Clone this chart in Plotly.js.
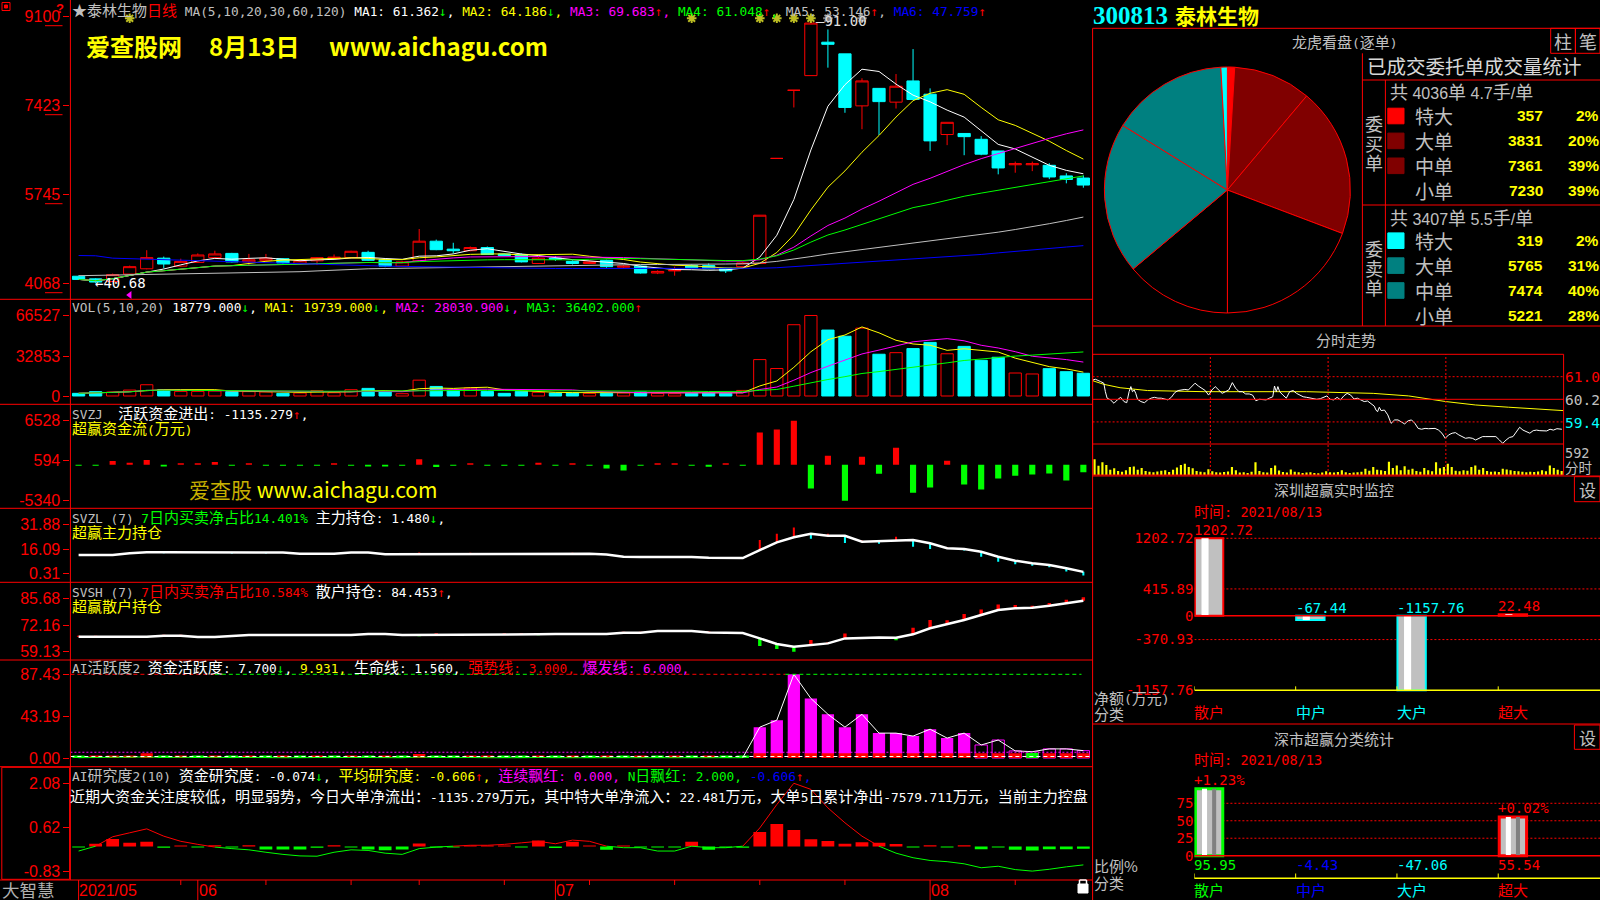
<!DOCTYPE html>
<html>
<head>
<meta charset="utf-8">
<script src="https://cdn.plot.ly/plotly-3.0.1.min.js"></script>
<style>
html,body{margin:0;padding:0;background:#000;overflow:hidden;}
#chart{width:1600px;height:900px;}
</style>
</head>
<body>
<div id="chart"></div>
<script>
// ================= DATA =================
const stockCode = '300813';
const stockName = '泰林生物';
const dates = ['2021-05-21','2021-05-24','2021-05-25','2021-05-26','2021-05-27','2021-05-28','2021-05-31',
 '2021-06-01','2021-06-02','2021-06-03','2021-06-04','2021-06-07','2021-06-08','2021-06-09','2021-06-10','2021-06-11',
 '2021-06-15','2021-06-16','2021-06-17','2021-06-18','2021-06-21','2021-06-22','2021-06-23','2021-06-24','2021-06-25',
 '2021-06-28','2021-06-29','2021-06-30',
 '2021-07-01','2021-07-02','2021-07-05','2021-07-06','2021-07-07','2021-07-08','2021-07-09','2021-07-12','2021-07-13',
 '2021-07-14','2021-07-15','2021-07-16','2021-07-19','2021-07-20','2021-07-21','2021-07-22','2021-07-23','2021-07-26',
 '2021-07-27','2021-07-28','2021-07-29','2021-07-30',
 '2021-08-02','2021-08-03','2021-08-04','2021-08-05','2021-08-06','2021-08-09','2021-08-10','2021-08-11','2021-08-12','2021-08-13'];

const openP  = [42.0,41.5,41.0,42.4,43.4,45.4,43.9,44.6,45.5,46.3, 44.7,45.0,45.3,44.4,44.9,45.3,45.5,46.5,45.1,43.9,
                44.9,48.6,47.1,46.8,47.4,46.2,46.1,44.4,45.4,44.8, 44.4,45.0,43.7,43.9,42.6,43.0,44.0,44.0,43.5,43.8,
                44.4,64.2,77.04,79.8,86.1,83.9,74.1,77.4,74.8,78.8, 76.3,68.7,68.9,67.8,65.6,63.0,63.0,62.9,60.9,60.5];
const highP  = [42.1,41.6,42.5,44.0,46.9,45.7,45.3,46.3,46.8,46.4, 46.2,46.2,45.4,45.1,45.6,46.1,46.8,46.8,45.2,44.9,
                50.9,48.9,48.3,47.6,47.6,46.3,46.3,45.6,45.8,45.0, 45.0,45.1,44.1,44.0,43.1,43.8,44.2,44.4,43.6,44.7,
                53.5,64.2,77.04,91.0,88.5,83.9,79.3,77.4,80.1,84.8, 77.4,71.0,68.9,68.4,65.6,63.6,63.6,63.3,61.4,61.0];
const lowP   = [41.3,40.68,40.9,42.3,43.3,43.5,43.8,44.5,45.4,44.6, 44.1,44.9,44.3,44.2,44.1,45.2,45.4,44.9,43.7,43.8,
                44.8,46.9,46.3,46.7,46.0,45.8,44.6,44.3,44.9,44.2, 44.3,43.6,43.5,42.5,42.4,42.1,43.5,43.3,42.6,43.6,
                44.4,64.2,73.8,79.8,81.3,72.8,69.7,68.6,73.6,75.3, 65.6,66.7,64.8,64.8,61.2,61.5,61.8,60.3,59.5,58.68];
const closeP = [41.4,40.9,42.3,43.8,45.5,44.3,44.8,46.0,46.2,44.7, 45.1,45.4,44.5,44.9,45.5,45.6,46.7,45.0,43.9,44.7,
                48.6,47.0,46.8,47.4,46.1,45.9,44.7,45.4,45.2,44.4, 44.7,43.8,43.9,42.6,42.9,43.1,43.6,43.4,43.0,44.5,
                53.5,64.2,77.04,89.7,85.7,73.8,78.8,74.9,77.8,75.3, 67.5,71.0,68.3,65.0,62.4,63.2,63.2,60.7,60.24,59.18];
// MA60 / MA120 (history before the window is not shown)
const ma60Line  = [42.1,42.15,42.2,42.25,42.3,42.35,42.4,42.45,42.5,42.55,42.6,42.7,42.75,42.85,43.0,43.15,43.3,43.4,43.45,43.5,
                   43.55,43.6,43.7,43.75,43.8,43.9,43.95,44.0,44.05,44.1,44.1,44.15,44.15,44.2,44.2,44.2,44.25,44.3,44.3,44.35,
                   44.5,44.8,45.2,45.7,46.2,46.6,47.1,47.5,47.9,48.3,48.7,49.1,49.5,49.9,50.3,50.8,51.3,51.9,52.5,53.15];
const ma120Line = [45.9,45.85,45.4,45.3,45.2,45.1,45.0,44.9,44.8,44.7,44.6,44.5,44.4,44.3,44.2,44.1,44.0,43.95,43.9,43.85,
                   43.8,43.7,43.65,43.6,43.55,43.5,43.5,43.45,43.45,43.45,43.45,43.4,43.4,43.4,43.4,43.4,43.4,43.4,43.4,43.45,
                   43.5,43.6,43.8,44.0,44.25,44.5,44.7,44.9,45.1,45.3,45.5,45.7,45.9,46.1,46.4,46.7,46.9,47.2,47.5,47.76];
const maLabelValues = [61.362, 64.186, 69.683, 61.048, 53.146, 47.759];
const maLabelArrows = ['↓','↓','↑','↑','↑','↑'];
const priceTicks = [40.68, 57.45, 74.23, 91.00];
const priceTickText = ['4068','5745','7423','9100'];
const infoMineWhite = [3, 36, 40, 41, 42, 43];
const infoMineGray = [44, 46];

const volume = [2200,3600,3300,4900,9300,5200,3800,3800,4100,3600, 3600,3300,2200,2500,4400,2700,5200,6300,3600,1900,
                13100,7900,4900,6600,3800,2200,3800,3000,2500,2500, 2200,2200,2500,3300,2200,1900,2200,2500,2200,4600,
                30100,22700,58900,66527,54500,49400,56100,34500,35800,39200, 44300,34900,41000,29500,32000,19000,18200,22600,20100,18779];
const volLabelValues = ['18779.000','19739.000','28030.900','36402.000'];
const volTicks = [0, 32853, 66527];

const svzj = [-150,-150,550,300,700,-250,200,200,400,-150, 200,-150,-150,-150,-150,200,-150,-250,-250,-150,
              800,-350,-150,200,-150,-150,-150,300,-150,200, -150,-550,-850,-150,200,200,-150,-300,200,-150,
              4770,5220,6528,-3530,1340,-5340,1190,-1340,2530,-4170, -3380,600,-2930,-3680,-2040,-1640,-1440,-1290,-2330,-1135.279];
const svzjTicks = [-5340, 594, 6528];

const svzlLine = [12.25,12.25,12.25,13.34,13.98,13.98,13.98,13.98,13.98,13.8, 13.8,13.8,13.8,13.09,13.09,13.09,13.8,13.8,12.7,12.7,
                  13.09,13.09,13.09,13.09,13.09,13.09,13.09,13.09,13.09,13.09, 13.09,12.5,11.2,11.0,11.0,11.0,11.0,10.5,10.4,10.33,
                  15.45,20.37,23.57,25.87,24.59,24.59,20.76,21.2,21.2,21.84, 19.73,16.54,16.09,14.36,11.17,8.61,6.95,5.86,3.75,1.48];
const svzlTick = [0,0,0,0,0,-0.6,0.6,0,0,-0.6, 0,-0.6,0,0,0,0,0,0,0,0,
                  0.8,-0.6,0,0.6,0,0,-0.6,0,-0.6,0.6, 0,0,-0.6,-0.6,0.6,0.6,0,-0.6,0.6,-0.6,
                  6.4,5.5,6.2,-3.2,1.3,-4.7,0.8,-1.7,2.8,-4.3, -3.6,0.8,-1.0,-3.2,-3.2,-2.3,-1.5,-1.5,-2.1,-2.3];
const svzlTicks = [0.31, 16.09, 31.88];
const svzlRatio = '14.401';

const svshLine = [66.44,66.44,66.44,66.44,66.44,66.94,66.94,66.29,66.29,66.79, 67.29,67.29,67.29,67.29,67.29,67.29,67.29,67.8,67.8,67.29,
                  67.29,67.64,67.64,67.64,67.64,67.64,67.64,67.64,67.8,67.8, 67.8,67.8,68.45,68.45,69.3,69.3,69.3,68.6,68.6,68.3,
                  65.6,62.8,61.43,62.28,63.1,65.6,65.94,66.1,65.94,67.64, 70.65,72.65,74.8,77.3,79.8,80.67,80.97,81.97,83.3,84.453];
const svshTick = [0.5,0.5,-0.5,-0.5,-0.6,0.5,0.5,-0.5,-0.5,0, 0,0.5,0.5,0.5,0.5,0,-0.5,0,0.5,0,
                  -0.6,0.5,-0.5,-0.5,0,0.5,0.5,-0.5,0.5,0.5, 0.5,0.5,0.5,0.5,0.5,-0.5,-0.5,0.5,-0.5,-0.5,
                  -3.8,-2.5,-2.5,2.5,0.6,2.5,-0.5,-0.8,-1.3,3.3, 4.2,2.0,3.0,2.8,2.8,1.7,1.0,1.3,1.7,1.7];
const svshTicks = [59.13, 72.16, 85.68];
const svshRatio = '10.584';

const aiActivity = [0.3,0.5,0.8,0.8,1.2,0.5,0.8,0.5,0.8,0.4, 0.6,0.4,0.3,0.3,0.5,0.4,0.6,0.5,0.4,0.3,
                    1.0,0.6,0.4,0.5,0.3,0.3,0.3,0.5,0.3,0.3, 0.3,0.3,0.3,0.3,0.3,0.3,0.3,0.3,0.3,0.3,
                    32.2,39.5,87.43,62.2,45.7,32.2,45.7,26.0,26.0,22.9, 30.1,20.8,26.0,13.6,18.8,7.4,6.6,9.5,9.5,7.7];
const aiBaseRed = [0,2.5,2.5,2.5,5.0,0,2.5,0,2.5,0, 2.5,0,2.5,0,2.5,0,2.5,0,2.5,0,
                   4.2,0,0,2.5,2.5,0,0,2.5,0,2.5, 0,2.5,0,2.5,0,2.5,0,2.5,0,0,
                   4.9,4.9,4.9,4.9,4.9,4.9,4.9,4.9,4.9,4.9, 4.9,4.9,4.9,4.9,4.9,4.9,0,4.9,4.9,4.9];
const aiBaseGreen = [2.5,0,0,0,0,2.5,0,2.5,0,2.5, 0,2.5,0,2.5,0,2.5,0,2.5,0,2.5,
                     0,2.5,2.5,0,0,2.5,2.5,0,2.5,0, 2.5,0,2.5,0,2.5,0,2.5,0,2.5,2.5,
                     0,0,0,0,0,0,0,0,0,0, 0,0,0,0,0,0,5.5,0,0,0];
const aiSecond = '9.931';
const aiLifeLine = 1.56, aiStrongLine = 3.0, aiBurstLine = 6.0;
const aiTicks = [0, 43.19, 87.43];

const aiResearch = [-0.03,0.09,0.25,0.12,0.16,-0.04,0.03,-0.03,0.04,-0.03, 0.04,-0.1,-0.1,-0.1,-0.04,0.04,-0.03,-0.1,-0.12,-0.1,
                    0.1,-0.03,-0.03,0.03,0.03,0.03,-0.03,0.2,-0.05,0.16, 0.03,-0.11,0.03,-0.03,-0.03,-0.03,0.16,-0.11,-0.03,-0.04,
                    0.48,0.74,0.54,0.24,0.18,0.09,0.14,0.12,0.08,-0.03, 0.04,-0.03,0.04,-0.09,-0.03,-0.11,-0.13,-0.09,-0.09,-0.074];
const aiResearchAvg = [-0.15,0.01,0.32,0.45,0.58,0.34,0.17,0.07,-0.02,-0.07, -0.11,-0.19,-0.26,-0.31,-0.32,-0.19,-0.11,-0.13,-0.22,-0.26,
                       -0.07,-0.02,0.01,0.04,0.04,0.07,0.12,0.17,0.09,0.21, 0.17,0.01,-0.04,-0.04,-0.15,-0.15,0.01,-0.04,-0.04,0.01,
                       0.61,1.38,2.08,1.88,1.27,0.78,0.34,0.01,-0.22,-0.37, -0.46,-0.50,-0.57,-0.70,-0.65,-0.76,-0.81,-0.75,-0.67,-0.606];
const aiResearchTicks = [-0.83, 0.62, 2.08];
const researchExtra = {red: '0.000', nday: '2.000', last: '-0.606'};
const bigFlow = {superIn: '22.481', fiveDay: '-7579.711'};

// order statistics (pie)
const orderLabels = ['特大','大单','中单','小单'];
const buyVol  = [357, 3831, 7361, 7230];
const sellVol = [319, 5765, 7474, 5221];
const orderCounts = [4036, 3407];

// intraday
const itTime = [0,1.4,4,5.7,6.5,7.4,9.1,10.9,12.6,14.3, 16,17.4,18.6,19.5,20.3,21.2,22,22.9,24.6,26.4,
  28.1,29.8,31.5,33.3,35,36.7,38.4,40.1,41.9,43.6, 45.3,47,48.8,50.5,52.2,53.9,55.7,57.4,59.1,60.8,
  62.5,64.3,66,67.7,69.4,71.2,72.9,74.6,76.3,78, 79.8,81.5,83.2,84.9,86.7,88.4,90.1,91.8,92.7,93.6,
  94.4,95.3,97,98.7,100.4,102.2,103.9,105.6,107.3,109.1, 110.8,112.5,114.2,116,117.7,119.4,121.1,122.8,124.6,126.3,
  128,129.7,131.5,133.2,134.9,136.6,138.4,140.1,141.8,143.5, 144.4,145.2,146.1,147,148.7,150.4,152.1,153.9,155.6,157.3,
  159,160.8,162.5,164.2,165.9,167.6,169.4,171.1,172.8,174.5, 176.3,178,179.7,181.4,183.2,184.9,186.6,188.3,190,191.8,
  193.5,195.2,196.9,198.7,200.4,202.1,203.8,205.5,207.3,209, 210.7,212.4,214.2,215.9,217.6,219.3,221.1,222.8,224.5,226.2,
  227.9,229.7,231.4,233.1,234.8,236.6,239.1];
const itPrice = [60.92,60.95,60.87,60.81,60.51,60.28,60.22,60.10,60.22,60.31, 60.16,60.12,60.51,60.69,60.51,60.57,60.45,60.24,60.16,60.12,
  60.22,60.28,60.31,60.28,60.28,60.24,60.22,60.31,60.48,60.55, 60.57,60.59,60.57,60.69,60.81,60.71,60.63,60.55,60.39,60.57,
  60.69,60.57,60.45,60.51,60.57,60.83,60.63,60.51,60.51,60.43, 60.43,60.39,60.19,60.24,60.24,60.22,60.28,60.33,60.71,60.51,
  60.69,60.51,60.39,60.28,60.51,60.55,60.45,60.39,60.33,60.31, 60.28,60.25,60.24,60.26,60.31,60.36,60.24,60.22,60.31,60.22,
  60.36,60.45,60.39,60.25,60.28,60.22,60.16,60.18,60.10,60.00, 59.86,59.80,59.96,59.84,59.86,59.69,59.39,59.51,59.51,59.45,
  59.37,59.48,59.51,59.39,59.21,59.18,59.21,59.20,59.21,59.21, 59.15,59.04,58.86,58.98,59.04,59.06,58.98,58.92,58.86,58.88,
  58.86,58.80,58.86,58.92,58.92,58.92,58.94,58.92,58.80,58.68, 58.80,58.89,58.92,59.10,59.25,59.15,59.10,59.04,59.13,59.15,
  59.13,59.13,59.12,59.18,59.15,59.20,59.18];
const itAvgTime  = [0,5.7,14,28,57,109,143,161,180,195,212,230,240];
const itAvgPrice = [60.90,60.77,60.65,60.55,60.51,60.51,60.45,60.36,60.16,60.04,59.96,59.89,59.84];
const itVolume = [592,350,480,380,200,250,150,120,180,300, 320,200,260,150,120,100,130,160,180,110,
  200,280,380,420,300,250,150,120,100,220, 140,100,90,110,130,300,180,90,100,80,
  120,480,150,100,90,260,360,170,110,90, 210,120,100,80,90,100,80,70,90,140,
  100,90,110,180,100,80,90,100,120,240, 160,300,200,180,150,500,260,360,180,330,
  200,240,150,120,260,180,140,480,250,300, 420,300,160,140,180,160,300,360,200,260,
  150,120,130,110,240,210,180,150,140,120, 100,120,110,130,180,140,360,260,200,150];
const itRefPrices = [61.04, 60.24, 59.44];

// 深圳超赢实时监控 / 深市超赢分类统计
const monitorDate = '2021/08/13';
const monitorCats = ['散户','中户','大户','超大'];
const szNet = [1202.72, -67.44, -1157.76, 22.48];
const szRatio = [95.95, -4.43, -47.06, 55.54];
const szRatioChange = [1.23, null, null, 0.02];
const szRatioTicks = [0, 25, 50, 75];

// ================= HELPERS =================
const W = 1600, H = 900;
const X = p => p / W, Y = p => 1 - p / H;
const RED = '#ff0000', CYAN = '#00ffff', YEL = '#ffff00', MAG = '#ff00ff', GRN = '#00ff00',
      WHT = '#ffffff', GRY = '#c0c0c0', BLU = '#0000ff', DRED = '#800000', TEAL = '#008080';
const MONO = 'DejaVu Sans Mono, monospace';
const CJKF = 'Noto Sans CJK SC';
const SANS = 'Liberation Sans, Arial, sans-serif';
const shapes = [], annotations = [];
function cj(s, sz) {
  s = s.replace(/ /g, '\u00a0');
  return s.replace(/[\u2E80-\u9FFF\u3000-\u303F\uFF00-\uFFEF\u2605]+/g,
    m => `<span style="font-family:'${CJKF}';font-size:${sz}px">${m}</span>`);
}
function c(s, col, sz) { return `<span style="color:${col}">${cj(s, sz || 15)}</span>`; }
function A(x, y, text, o) {
  annotations.push(Object.assign({xref:'paper', yref:'paper', x:X(x), y:Y(y), text:text, showarrow:false,
    xanchor:'left', yanchor:'middle', align:'left', borderpad:0, borderwidth:0,
    font:{family:MONO, size:12.8, color:GRY}}, o || {}));
}
function L(x0, y0, x1, y1, color, width, dash, extra) {
  shapes.push(Object.assign({type:'line', xref:'paper', yref:'paper', x0:X(x0), y0:Y(y0), x1:X(x1), y1:Y(y1),
    line:{color:color || RED, width:width || 1, dash:dash || 'solid'}}, extra || {}));
}
function R(x0, y0, x1, y1, color, fill) {
  shapes.push({type:'rect', xref:'paper', yref:'paper', x0:X(x0), y0:Y(y1), x1:X(x1), y1:Y(y0),
    line:{color:color || RED, width:1}, fillcolor:fill || 'rgba(0,0,0,0)'});
}
function ma(arr, n) {
  return arr.map((_, i) => { const s = Math.max(0, i - n + 1); let sum = 0; for (let k = s; k <= i; k++) sum += arr[k]; return sum / (i - s + 1); });
}
function segLine(xs, ys, colorFn, xaxis, yaxis, width) {
  const g = {};
  for (let i = 0; i < xs.length - 1; i++) {
    const col = colorFn(ys[i], ys[i + 1]);
    if (!g[col]) g[col] = {x:[], y:[]};
    g[col].x.push(xs[i], xs[i + 1], null); g[col].y.push(ys[i], ys[i + 1], null);
  }
  return Object.keys(g).map(col => ({type:'scatter', mode:'lines', x:g[col].x, y:g[col].y, xaxis:xaxis, yaxis:yaxis,
    line:{color:col, width:width}, hoverinfo:'skip', connectgaps:false}));
}

const N = dates.length;
const idx = dates.map((_, i) => i);
const data = [];

// ================= PRICE PANEL =================
const priceRange = [37.65, 94.05];
data.push({type:'candlestick', x:idx, open:openP, high:highP, low:lowP, close:closeP, xaxis:'x', yaxis:'y',
  increasing:{line:{color:RED, width:1}, fillcolor:'#000000'},
  decreasing:{line:{color:CYAN, width:1}, fillcolor:CYAN},
  whiskerwidth:0, hoverinfo:'skip', showlegend:false});
const maCols = [WHT, YEL, MAG, GRN, GRY, BLU];
[ma(closeP,5), ma(closeP,10), ma(closeP,20), ma(closeP,30), ma60Line, ma120Line].forEach((v, k) => {
  data.push({type:'scatter', mode:'lines', x:idx, y:v, xaxis:'x', yaxis:'y', line:{color:maCols[k], width:1}, hoverinfo:'skip'});
});
const starY = priceRange[1] - (priceRange[1] - priceRange[0]) * 18.3 / 299.3;
data.push({type:'scatter', mode:'markers', x:infoMineGray, y:infoMineGray.map(() => starY), xaxis:'x', yaxis:'y',
  marker:{symbol:'asterisk-open', size:8, line:{color:'#808080', width:2}}, hoverinfo:'skip'});
data.push({type:'scatter', mode:'markers', x:infoMineWhite, y:infoMineWhite.map(() => starY), xaxis:'x', yaxis:'y',
  marker:{symbol:'asterisk-open', size:8, line:{color:WHT, width:2}}, hoverinfo:'skip'});
const triY = priceRange[0] + (priceRange[1] - priceRange[0]) * 4.3 / 299.3;
data.push({type:'scatter', mode:'markers', x:[infoMineWhite[0]], y:[triY], xaxis:'x', yaxis:'y',
  marker:{symbol:'triangle-left', size:7, color:MAG}, hoverinfo:'skip'});

const iLow = lowP.indexOf(Math.min(...lowP));
const iHigh = highP.indexOf(Math.max(...highP));
A(0, 0, '←' + lowP[iLow].toFixed(2), {xref:'x', yref:'y', x:iLow - 0.05, y:lowP[iLow], font:{family:MONO, size:14, color:WHT}});
A(0, 0, '—' + highP[iHigh].toFixed(2), {xref:'x', yref:'y', x:iHigh + 0.3, y:highP[iHigh] - 1.0, font:{family:MONO, size:14, color:'#e0e0e0'}});

// title line
const maNames = ['MA1','MA2','MA3','MA4','MA5','MA6'];
let t = c('★泰林生物', GRY) + c('日线', RED) + c(' MA(5,10,20,30,60,120) ', GRY);
maNames.forEach((nm, k) => {
  t += c(nm + ': ' + maLabelValues[k].toFixed(3), maCols[k]) + c(maLabelArrows[k], maLabelArrows[k] === '↑' ? RED : GRN);
  if (k < 5) t += c(', ', maCols[k]);
});
A(71.5, 9.2, t);
// watermark
A(85.5, 45, '<b>爱查股网</b>', {font:{family:CJKF, size:24, color:YEL}});
A(209, 45, '<b>8月13日</b>', {font:{family:CJKF, size:24, color:YEL}});
A(329, 45, '<b>www.aichagu.com</b>', {font:{family:CJKF, size:24, color:YEL}});

// ================= VOLUME =================
const volUp = idx.map(i => closeP[i] >= openP[i]);
data.push({type:'bar', x:idx, y:volume, xaxis:'x', yaxis:'y2', width:0.72,
  marker:{color:volUp.map(u => u ? 'rgba(0,0,0,0)' : CYAN), line:{color:volUp.map(u => u ? RED : CYAN), width:1}}, hoverinfo:'skip'});
[[ma(volume,5), YEL], [ma(volume,10), MAG], [ma(volume,20), GRN]].forEach(([v, col]) => {
  data.push({type:'scatter', mode:'lines', x:idx, y:v, xaxis:'x', yaxis:'y2', line:{color:col, width:1}, hoverinfo:'skip'});
});
A(71.5, 307.7, c('VOL(5,10,20) ', GRY) + c(volLabelValues[0], WHT) + c('↓', GRN) + c(', ', WHT) +
  c('MA1: ' + volLabelValues[1], YEL) + c('↓', GRN) + c(', ', YEL) +
  c('MA2: ' + volLabelValues[2], MAG) + c('↓', GRN) + c(', ', MAG) +
  c('MA3: ' + volLabelValues[3], GRN) + c('↑', RED));

// ================= SVZJ =================
data.push({type:'bar', x:idx, y:svzj, xaxis:'x', yaxis:'y3', width:0.36,
  marker:{color:svzj.map(v => v >= 0 ? RED : GRN), line:{width:0}}, hoverinfo:'skip'});
A(71.5, 412.7, c('SVZJ  ', GRY) + c('活跃资金进出: ' + svzj[N-1].toFixed(3), WHT) + c('↑', RED) + c(',', WHT));
A(71.5, 427.7, c('超赢资金流(万元)', YEL));
A(189, 489, '<span style="color:#c8b000">爱查股</span> www.aichagu.com', {font:{family:CJKF, size:21, color:YEL}});

// ================= SVZL =================
data.push({type:'bar', x:idx, y:svzlTick, base:svzlLine, xaxis:'x', yaxis:'y4', width:0.12,
  marker:{color:svzlTick.map(v => v >= 0 ? RED : CYAN), line:{width:0}}, hoverinfo:'skip'});
data.push({type:'scatter', mode:'lines', x:idx, y:svzlLine, xaxis:'x', yaxis:'y4', line:{color:WHT, width:2.5}, hoverinfo:'skip'});
A(71.5, 516, c('SVZL (7) ', GRY) + c('7日内买卖净占比' + svzlRatio + '%', GRN) + c(' 主力持仓: ' + svzlLine[N-1].toFixed(3), WHT) + c('↓', GRN) + c(',', WHT));
A(71.5, 531.7, c('超赢主力持仓', YEL));

// ================= SVSH =================
data.push({type:'bar', x:idx, y:svshTick, base:svshLine, xaxis:'x', yaxis:'y5', width:0.2,
  marker:{color:svshTick.map(v => v >= 0 ? RED : GRN), line:{width:0}}, hoverinfo:'skip'});
data.push({type:'scatter', mode:'lines', x:idx, y:svshLine, xaxis:'x', yaxis:'y5', line:{color:WHT, width:2.5}, hoverinfo:'skip'});
A(71.5, 590, c('SVSH (7) ', GRY) + c('7日内买卖净占比' + svshRatio + '%', RED) + c(' 散户持仓: ' + svshLine[N-1].toFixed(3), WHT) + c('↑', RED) + c(',', WHT));
A(71.5, 605.7, c('超赢散户持仓', YEL));

// ================= AI 活跃度 =================
data.push({type:'bar', x:idx, y:aiActivity.map(v => v >= 20 ? v : null), xaxis:'x', yaxis:'y6', width:0.72,
  marker:{color:MAG, line:{width:0}}, hoverinfo:'skip'});
data.push({type:'bar', x:idx, y:aiActivity.map(v => (v >= 5 && v < 20) ? v : null), xaxis:'x', yaxis:'y6', width:0.72,
  marker:{color:'rgba(0,0,0,0)', line:{color:MAG, width:1}}, hoverinfo:'skip'});
data.push({type:'bar', x:idx, y:aiBaseRed.map(v => v > 0 ? v : null), xaxis:'x', yaxis:'y6', width:0.72,
  marker:{color:RED, line:{width:0}}, hoverinfo:'skip'});
data.push({type:'bar', x:idx, y:aiBaseGreen.map(v => v > 0 ? v : null), xaxis:'x', yaxis:'y6', width:0.72,
  marker:{color:GRN, line:{width:0}}, hoverinfo:'skip'});
segLine(idx, aiActivity, (a, b) => Math.max(a, b) > aiLifeLine ? WHT : GRN, 'x', 'y6', 1).forEach(tr => data.push(tr));
const xR = [-0.4815, 59.39];
shapes.push({type:'line', xref:'x', yref:'y6', x0:xR[0], x1:xR[1], y0:aiBurstLine, y1:aiBurstLine, line:{color:MAG, width:1, dash:'2px,2px'}});
shapes.push({type:'line', xref:'x', yref:'y6', x0:xR[0], x1:xR[1], y0:aiLifeLine, y1:aiLifeLine, line:{color:WHT, width:1, dash:'4px,3px'}});
[[xR[0], 8, RED], [8, 27, GRN], [27, 41.5, RED], [41.5, xR[1] - 0.5, GRN]].forEach(([a, b, col]) => {
  shapes.push({type:'line', xref:'x', yref:'y6', x0:a, x1:b, y0:aiTicks[2], y1:aiTicks[2], line:{color:col, width:1, dash:'4px,3px'}});
});
A(71.5, 666.7, c('AI活跃度2 ', GRY) + c('资金活跃度: ' + aiActivity[N-1].toFixed(3), WHT) + c('↓', GRN) + c(', ', WHT) +
  c(aiSecond + ', ', YEL) + c('生命线: ' + aiLifeLine.toFixed(3) + ', ', WHT) + c('强势线: ' + aiStrongLine.toFixed(3) + ', ', RED) +
  c('爆发线: ' + aiBurstLine.toFixed(3) + ',', MAG));

// ================= AI 研究度 =================
data.push({type:'bar', x:idx, y:aiResearch, xaxis:'x', yaxis:'y7', width:0.75,
  marker:{color:aiResearch.map(v => v >= 0 ? RED : GRN), line:{width:0}}, hoverinfo:'skip'});
segLine(idx, aiResearchAvg, (a, b) => (a + b) / 2 >= 0 ? RED : GRN, 'x', 'y7', 1).forEach(tr => data.push(tr));
A(71.5, 774.3, c('AI研究度2(10) ', GRY) + c('资金研究度: ' + aiResearch[N-1].toFixed(3), WHT) + c('↓', GRN) + c(', ', WHT) +
  c('平均研究度: ' + aiResearchAvg[N-1].toFixed(3), YEL) + c('↑', RED) + c(', ', YEL) +
  c('连续飘红: ' + researchExtra.red + ', ', MAG) + c('N日飘红: ' + researchExtra.nday + ', ', GRN) +
  c(researchExtra.last, BLU) + c('↑', RED) + c(',', BLU));
A(69.5, 795, c('近期大资金关注度较低，明显弱势，今日大单净流出：' + svzj[N-1].toFixed(3) + '万元，其中特大单净流入：' + bigFlow.superIn +
  '万元，大单5日累计净出' + bigFlow.fiveDay + '万元，当前主力控盘', WHT));

// ================= DATE AXIS =================
const dObj = dates.map(s => new Date(s + 'T00:00:00Z'));
let lastM = -10, lastLen = 0;
for (let i = 0; i < N; i++) {
  const d = dObj[i], p = i > 0 ? dObj[i - 1] : null;
  const mStart = !p || d.getUTCMonth() !== p.getUTCMonth();
  const wStart = p && d.getUTCDay() < p.getUTCDay();
  if (mStart) {
    const mm = String(d.getUTCMonth() + 1).padStart(2, '0');
    const lab = i === 0 ? d.getUTCFullYear() + '/' + mm : mm;
    shapes.push({type:'line', xref:'x', yref:'paper', x0:i, x1:i, y0:Y(880), y1:Y(900), line:{color:RED, width:1}});
    A(0, 890, lab, {xref:'x', x:i + 0.05, font:{family:SANS, size:16, color:RED}});
    lastM = i; lastLen = lab.length * 8.5 / 17.03;
  } else if (wStart && (i - lastM) > lastLen) {
    shapes.push({type:'line', xref:'x', yref:'paper', x0:i, x1:i, y0:Y(880), y1:Y(885), line:{color:RED, width:1}});
  }
}
A(1.5, 889.5, '大智慧', {font:{family:CJKF, size:17.5, color:'#b0b0b0'}});

// ================= LEFT FRAME =================
[299.3, 404.3, 508.3, 582.3, 660, 766.7, 880].forEach(y => L(0, y, 1092.6, y));
L(70.4, 0, 70.4, 880);
R(1.8, 767.3, 69.6, 879.3);
// underline of price tick labels
[16.2, 105.2, 194.2, 283.2].forEach(y => L(45, y + 9.5, 62.5, y + 9.5));
R(2, 2.5, 10, 10.5); R(4.5, 5, 7.5, 8, RED, RED);
A(56, 8.5, '<b>?</b>', {font:{family:SANS, size:13, color:RED}});
// lock icon
R(1078, 884, 1088, 893, WHT, WHT);
L(1079.5, 884, 1079.5, 880, WHT, 1.5); L(1086.5, 884, 1086.5, 880, WHT, 1.5); L(1079.5, 880, 1086.5, 880, WHT, 1.5);

// ================= RIGHT: HEADER & PIE =================
L(1092.6, 28.3, 1092.6, 900);
L(1092.6, 28.3, 1600, 28.3);
A(1092.5, 15, '<b>' + stockCode + '</b>', {font:{family:'Liberation Serif, serif', size:25, color:CYAN}});
A(1174.5, 15, '<b>' + stockName + '</b>', {font:{family:CJKF, size:21, color:YEL}});
A(1345, 41, cj('龙虎看盘(逐单)', 15), {xanchor:'center', font:{family:MONO, size:13, color:GRY}});
R(1550.7, 28.3, 1575.4, 53.3); R(1575.4, 28.3, 1600, 53.3);
A(1563, 41, '柱', {xanchor:'center', font:{family:CJKF, size:18, color:GRY}});
A(1588, 41, '笔', {xanchor:'center', font:{family:CJKF, size:18, color:GRY}});

const pieCx = 1227.4, pieCy = 190, pieR = 123;
data.push({type:'pie', values:buyVol.concat(sellVol.slice().reverse()),
  marker:{colors:[RED, DRED, DRED, '#000000', '#000000', TEAL, TEAL, CYAN], line:{color:RED, width:1}},
  sort:false, direction:'clockwise', rotation:0, textinfo:'none', hoverinfo:'skip', showlegend:false,
  domain:{x:[X(pieCx - pieR), X(pieCx + pieR)], y:[Y(pieCy + pieR), Y(pieCy - pieR)]}});

L(1362.4, 53.3, 1362.4, 326);
A(1367, 65.7, '已成交委托单成交量统计', {font:{family:CJKF, size:19.5, color:'#d8d8d8'}});
L(1362.4, 80, 1600, 80);
L(1385.4, 80, 1385.4, 326);
L(1362.4, 205, 1600, 205);
L(1092.6, 326, 1600, 326);
['委','买','单'].forEach((ch, k) => A(1374, 123.3 + 19.5 * k, ch, {xanchor:'center', font:{family:CJKF, size:18, color:GRY}}));
['委','卖','单'].forEach((ch, k) => A(1374, 248 + 19.5 * k, ch, {xanchor:'center', font:{family:CJKF, size:18, color:GRY}}));
const sideTotals = [buyVol.reduce((a, b) => a + b, 0), sellVol.reduce((a, b) => a + b, 0)];
const sideVols = [buyVol, sellVol];
const sideCols = [[RED, DRED, DRED, null], [CYAN, TEAL, TEAL, null]];
const headY = [90.7, 216.7], rowY0 = [116, 240.7];
for (let s = 0; s < 2; s++) {
  A(1389.5, headY[s], '<span style="font-family:\'' + CJKF + '\';font-size:18px">共</span> ' + orderCounts[s] +
    '<span style="font-family:\'' + CJKF + '\';font-size:18px">单</span> ' + (sideTotals[s] / orderCounts[s]).toFixed(1) +
    '<span style="font-family:\'' + CJKF + '\';font-size:18px">手</span>/<span style="font-family:\'' + CJKF + '\';font-size:18px">单</span>',
    {font:{family:SANS, size:16, color:GRY}});
  for (let k = 0; k < 4; k++) {
    const y = rowY0[s] + 24.9 * k;
    if (sideCols[s][k]) R(1387.8, y - 7.8, 1404, y + 7.8, sideCols[s][k], sideCols[s][k]);
    A(1414.8, y, orderLabels[k], {font:{family:CJKF, size:19, color:GRY}});
    A(1542.6, y, '<b>' + sideVols[s][k] + '</b>', {xanchor:'right', font:{family:SANS, size:15.5, color:YEL}});
    A(1599, y, '<b>' + Math.round(sideVols[s][k] / sideTotals[s] * 100) + '%</b>', {xanchor:'right', font:{family:SANS, size:15.5, color:YEL}});
  }
}

// ================= RIGHT: INTRADAY =================
A(1346, 339.5, '分时走势', {xanchor:'center', font:{family:CJKF, size:15, color:GRY}});
data.push({type:'bar', x:itVolume.map((_, k) => 2 * k + 1), y:itVolume, xaxis:'x2', yaxis:'y9', width:1.1,
  marker:{color:YEL, line:{width:0}}, hoverinfo:'skip'});
data.push({type:'scatter', mode:'lines', x:itAvgTime, y:itAvgPrice, xaxis:'x2', yaxis:'y8', line:{color:YEL, width:1}, hoverinfo:'skip'});
data.push({type:'scatter', mode:'lines', x:itTime, y:itPrice, xaxis:'x2', yaxis:'y8', line:{color:WHT, width:1}, hoverinfo:'skip'});
R(1092.6, 354.3, 1563.6, 475);
L(1092.6, 444, 1563.6, 444);
shapes.push({type:'line', xref:'x2', yref:'y8', x0:0, x1:240, y0:itRefPrices[1], y1:itRefPrices[1], line:{color:RED, width:1}});
[itRefPrices[0], itRefPrices[2]].forEach(v => shapes.push({type:'line', xref:'x2', yref:'y8', x0:0, x1:240, y0:v, y1:v, line:{color:RED, width:1, dash:'2px,2px'}}));
[60, 120, 180].forEach(m => shapes.push({type:'line', xref:'x2', yref:'paper', x0:m, x1:m, y0:Y(475), y1:Y(354.3), line:{color:RED, width:1, dash:'2px,2px'}}));
A(1565, 377.3, itRefPrices[0].toFixed(2), {font:{family:MONO, size:14.5, color:RED}});
A(1565, 400, itRefPrices[1].toFixed(2), {font:{family:MONO, size:14.5, color:GRY}});
A(1565, 423.3, itRefPrices[2].toFixed(2), {font:{family:MONO, size:14.5, color:CYAN}});
A(1565, 453, String(Math.max(...itVolume)), {font:{family:MONO, size:13.5, color:GRY}});
A(1565, 467, '分时', {font:{family:CJKF, size:13.5, color:GRY}});
L(1092.6, 476, 1600, 476);

// ================= RIGHT: 深圳超赢实时监控 =================
A(1333.7, 489.3, '深圳超赢实时监控', {xanchor:'center', font:{family:CJKF, size:15, color:GRY}});
R(1574.4, 476.7, 1600, 501.7);
A(1587.5, 489.3, '设', {xanchor:'center', font:{family:CJKF, size:17, color:GRY}});
A(1194.4, 510, cj('时间: ' + monitorDate, 15), {font:{family:MONO, size:13.6, color:RED}});
const szMax = Math.max(...szNet), szMin = Math.min(...szNet);
const szTicks = [0, 1, 2, 3].map(k => szMin + k * (szMax - szMin) / 3);
const szSignCol = szNet.map(v => v >= 0 ? RED : CYAN);
const cx = [0, 1, 2, 3];
[szTicks[1], szTicks[2], szTicks[3]].forEach(v => shapes.push({type:'line', xref:'x3', yref:'y10', x0:-0.145, x1:3.86, y0:v, y1:v,
  line:{color:RED, width:1, dash:'2px,2px'}, layer:'below'}));
data.push({type:'bar', x:cx, y:szNet, xaxis:'x3', yaxis:'y10', width:0.28,
  marker:{color:GRY, line:{color:szSignCol, width:2}}, hoverinfo:'skip'});
data.push({type:'bar', x:cx, y:szNet, xaxis:'x3', yaxis:'y10', width:0.07, offset:-0.075,
  marker:{color:WHT, line:{width:0}}, hoverinfo:'skip'});
shapes.push({type:'line', xref:'x3', yref:'y10', x0:-0.145, x1:3.86, y0:0, y1:0, line:{color:RED, width:1.5}});
shapes.push({type:'line', xref:'x3', yref:'y10', x0:-0.145, x1:3.86, y0:szMin, y1:szMin, line:{color:YEL, width:1.5}});
cx.forEach(i => {
  shapes.push({type:'line', xref:'x3', yref:'y10', x0:i - 0.145, x1:i - 0.145, y0:szMin, y1:szMin + 60, line:{color:YEL, width:1}});
  A(0, 0, szNet[i].toFixed(2), {xref:'x3', yref:'y10', x:i - 0.145, y:Math.max(szNet[i], 0), yanchor:'bottom',
    font:{family:MONO, size:14, color:szSignCol[i]}});
  A(0, 711.7, monitorCats[i], {xref:'x3', x:i - 0.145, font:{family:CJKF, size:15, color:szSignCol[i]}});
});
A(1093.5, 697.5, cj('净额(万元)', 15), {font:{family:MONO, size:13, color:GRY}});
A(1093.5, 713.3, '分类', {font:{family:CJKF, size:15, color:GRY}});
L(1092.6, 724, 1600, 724);

// ================= RIGHT: 深市超赢分类统计 =================
A(1333.7, 738.3, '深市超赢分类统计', {xanchor:'center', font:{family:CJKF, size:15, color:GRY}});
R(1574.4, 725, 1600, 749.3);
A(1587.5, 737.3, '设', {xanchor:'center', font:{family:CJKF, size:17, color:GRY}});
A(1194.4, 758.3, cj('时间: ' + monitorDate, 15), {font:{family:MONO, size:13.6, color:RED}});
const catCols = [GRN, BLU, CYAN, RED];
[25, 50, 75].forEach(v => shapes.push({type:'line', xref:'x4', yref:'y11', x0:-0.145, x1:3.86, y0:v, y1:v,
  line:{color:RED, width:1, dash:'2px,2px'}, layer:'below'}));
data.push({type:'bar', x:cx, y:szRatio.map(v => v > 0 ? v : null), xaxis:'x4', yaxis:'y11', width:0.27,
  marker:{color:GRY, line:{color:catCols, width:3}}, hoverinfo:'skip'});
data.push({type:'bar', x:cx, y:szRatio.map(v => v > 0 ? v : null), xaxis:'x4', yaxis:'y11', width:0.05, offset:-0.07,
  marker:{color:WHT, line:{width:0}}, hoverinfo:'skip'});
data.push({type:'bar', x:cx, y:szRatio.map(v => v > 0 ? v : null), xaxis:'x4', yaxis:'y11', width:0.04, offset:0.03,
  marker:{color:'#808080', line:{width:0}}, hoverinfo:'skip'});
shapes.push({type:'line', xref:'x4', yref:'y11', x0:-0.145, x1:3.86, y0:0, y1:0, line:{color:RED, width:1.5}});
L(1194.4, 878.3, 1600, 878.3, YEL, 1.5);
cx.forEach(i => {
  shapes.push({type:'line', xref:'x4', yref:'paper', x0:i - 0.145, x1:i - 0.145, y0:Y(878.3), y1:Y(873.5), line:{color:YEL, width:1}});
  if (szRatioChange[i] !== null) {
    A(0, 0, '+' + szRatioChange[i].toFixed(2) + '%', {xref:'x4', yref:'y11', x:i - 0.145, y:szRatio[i] + 1.5, yanchor:'bottom',
      font:{family:MONO, size:14, color:RED}});
  }
  A(0, 865, szRatio[i].toFixed(2), {xref:'x4', x:i - 0.145, font:{family:MONO, size:14, color:catCols[i]}});
  A(0, 889.5, monitorCats[i], {xref:'x4', x:i - 0.145, font:{family:CJKF, size:15, color:catCols[i]}});
});
A(1093.5, 865, '比例%', {font:{family:CJKF, size:15, color:GRY}});
A(1093.5, 882.7, '分类', {font:{family:CJKF, size:15, color:GRY}});

// ================= LAYOUT =================
const yBase = {showgrid:false, zeroline:false, showline:false, ticks:'outside', ticklen:6, tickcolor:RED, tickwidth:1,
  tickfont:{family:SANS, size:16, color:RED}, anchor:'x', fixedrange:true};
const hid = {visible:false, showgrid:false, zeroline:false, fixedrange:true};
const layout = {
  width:W, height:H, margin:{l:0, r:0, t:0, b:0, pad:0},
  paper_bgcolor:'#000000', plot_bgcolor:'#000000',
  showlegend:false, hovermode:false, dragmode:false,
  barmode:'overlay', boxgap:0.28, boxgroupgap:0,
  font:{family:MONO, color:GRY},
  xaxis:Object.assign({}, hid, {domain:[X(70.4), X(1090)], range:xR, anchor:'y', rangeslider:{visible:false}}),
  yaxis:Object.assign({}, yBase, {domain:[Y(299.3), Y(0)], range:priceRange, tickvals:priceTicks, ticktext:priceTickText}),
  yaxis2:Object.assign({}, yBase, {domain:[Y(404.3), Y(299.3)], range:[-6859, 79915], tickvals:volTicks, ticktext:volTicks.map(String)}),
  yaxis3:Object.assign({}, yBase, {domain:[Y(508.3), Y(404.3)], range:[-6467, 8961], tickvals:svzjTicks, ticktext:svzjTicks.map(String)}),
  yaxis4:Object.assign({}, yBase, {domain:[Y(582.3), Y(508.3)], range:[-5.19, 42.11], tickvals:svzlTicks, ticktext:svzlTicks.map(v => v.toFixed(2))}),
  yaxis5:Object.assign({}, yBase, {domain:[Y(660), Y(582.3)], range:[54.77, 93.7], tickvals:svshTicks, ticktext:svshTicks.map(v => v.toFixed(2))}),
  yaxis6:Object.assign({}, yBase, {domain:[Y(766.7), Y(660)], range:[-9.09, 102.37], tickvals:aiTicks, ticktext:aiTicks.map(v => v.toFixed(2))}),
  yaxis7:Object.assign({}, yBase, {domain:[Y(880), Y(766.7)], range:[-1.103, 2.626], tickvals:aiResearchTicks, ticktext:aiResearchTicks.map(v => v.toFixed(2))}),
  xaxis2:Object.assign({}, hid, {domain:[X(1092.6), X(1563.6)], range:[0, 240], anchor:'y8'}),
  yaxis8:Object.assign({}, hid, {domain:[Y(444), Y(354.3)], range:[58.658, 61.833], anchor:'x2'}),
  yaxis9:Object.assign({}, hid, {domain:[Y(475), Y(444)], range:[0, 1169], anchor:'x2'}),
  xaxis3:Object.assign({}, hid, {domain:[X(1194.4), 1], range:[-0.145, 3.86], anchor:'y10'}),
  yaxis10:{domain:[Y(700), Y(520)], range:[-1310, 1487], anchor:'x3', showgrid:false, zeroline:false, showline:false, ticks:'',
    tickvals:szTicks.concat([0]), ticktext:szTicks.map(v => v.toFixed(2)).concat(['0']), tickfont:{family:MONO, size:14, color:RED}, fixedrange:true},
  xaxis4:Object.assign({}, hid, {domain:[X(1194.4), 1], range:[-0.145, 3.86], anchor:'y11'}),
  yaxis11:{domain:[Y(860), Y(765)], range:[-6.15, 129.8], anchor:'x4', showgrid:false, zeroline:false, showline:false, ticks:'',
    tickvals:szRatioTicks, ticktext:szRatioTicks.map(String), tickfont:{family:MONO, size:14, color:RED}, fixedrange:true},
  shapes:shapes, annotations:annotations
};
Plotly.newPlot('chart', data, layout, {staticPlot:true, displayModeBar:false, responsive:false});
</script>
</body>
</html>
